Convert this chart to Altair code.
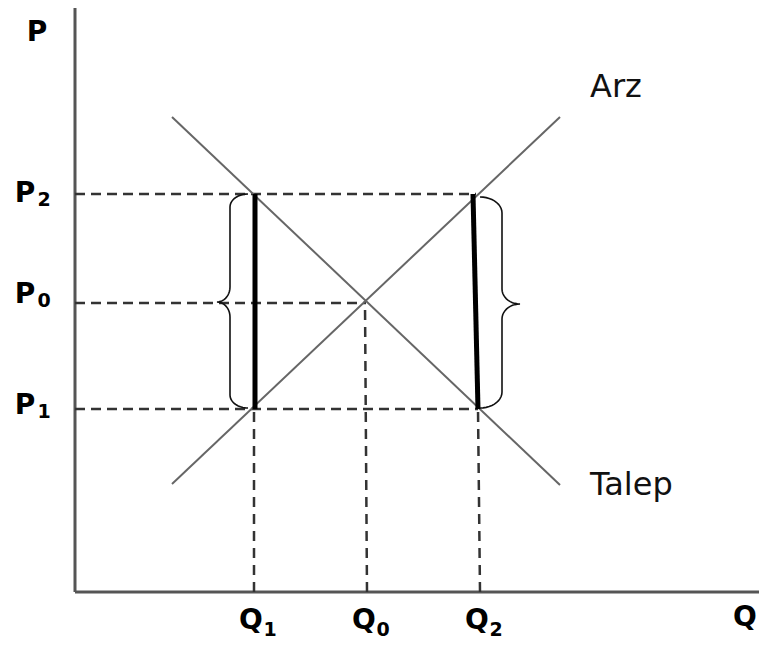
import altair as alt
import pandas as pd
import numpy as np

# ---- values (abstract units, origin at axis corner) ----
Q_NAMES = ["Q", "Q", "Q"]
Q_SUBS = ["1", "0", "2"]
Q_VALUES = [17.9, 29.2, 40.5]          # Q1, Q0, Q2

P_NAMES = ["P", "P", "P"]
P_SUBS = ["2", "0", "1"]
P_VALUES = [39.8, 28.9, 18.3]          # P2, P0, P1

SUPPLY_Q = [9.7, 48.5]
SUPPLY_P = [10.8, 47.5]
DEMAND_Q = [9.7, 48.5]
DEMAND_P = [47.5, 10.7]

EQ_Q, EQ_P = 29.1, 28.9                 # intersection
LEFT_BAR_Q = [18.0, 18.0]               # thick segment at Q1 (top, bottom)
RIGHT_BAR_Q = [39.8, 40.3]              # thick segment at Q2 (top, bottom)

X_MAX, Y_MAX = 68.4, 58.7

P2, P0, P1 = P_VALUES
Q1, Q0, Q2 = Q_VALUES

xs = alt.Scale(domain=[-6.7, 68.4], nice=False, zero=False)
ys = alt.Scale(domain=[-4.7, 58.4], nice=False, zero=False)
X = lambda f="x": alt.X(f"{f}:Q", scale=xs, axis=None)
Y = lambda f="y": alt.Y(f"{f}:Q", scale=ys, axis=None)

# axes
axes_df = pd.DataFrame({"x": [0, 0], "y": [0, 0], "x2": [0, X_MAX], "y2": [Y_MAX, 0]})
axes = alt.Chart(axes_df).mark_rule(color="#555", strokeWidth=3).encode(
    x=X(), y=Y(), x2="x2:Q", y2="y2:Q")

# dashed guide lines
h_df = pd.DataFrame({"x": [0, 0, 0], "x2": [RIGHT_BAR_Q[0] + 0.3, EQ_Q, RIGHT_BAR_Q[1]],
                     "y": [P2, P0, P1], "y2": [P2, P0, P1]})
v_df = pd.DataFrame({"x": [Q1, Q0, Q2], "x2": [Q1, Q0 - 0.2, Q2 - 0.2],
                     "y": [0, 0, 0], "y2": [P1, EQ_P, P1]})
hdash = alt.Chart(h_df).mark_rule(color="#333", strokeWidth=2.5, strokeDash=[10, 6]).encode(
    x=X(), x2="x2:Q", y=Y(), y2="y2:Q")
vdash = alt.Chart(v_df).mark_rule(color="#333", strokeWidth=2.5, strokeDash=[10, 7]).encode(
    x=X(), x2="x2:Q", y=Y(), y2="y2:Q")

# supply & demand
curves_df = pd.DataFrame({
    "x": SUPPLY_Q + DEMAND_Q,
    "y": SUPPLY_P + DEMAND_P,
    "curve": ["Arz", "Arz", "Talep", "Talep"],
})
curves = alt.Chart(curves_df).mark_line(color="#666", strokeWidth=2).encode(
    x=X(), y=Y(), detail="curve:N")

# thick segments
bars_df = pd.DataFrame({"x": [LEFT_BAR_Q[0], RIGHT_BAR_Q[0]], "x2": [LEFT_BAR_Q[1], RIGHT_BAR_Q[1]],
                        "y": [P2, P2], "y2": [P1, P1]})
bars = alt.Chart(bars_df).mark_rule(color="black", strokeWidth=5).encode(
    x=X(), x2="x2:Q", y=Y(), y2="y2:Q")


# braces (shape built from the P levels)
def brace(name, x_end, x_body, x_tip, y_top, y_mid, y_bot, ry_e, ry_m, n=12):
    t = np.linspace(0, np.pi / 2, n)
    px, py = [], []
    px += list(x_end - (x_end - x_body) * np.sin(t)); py += list(y_top - ry_e + ry_e * np.cos(t))
    px += list(x_tip + (x_body - x_tip) * np.cos(t)); py += list(y_mid + ry_m - ry_m * np.sin(t))
    px += list(x_tip + (x_body - x_tip) * np.sin(t)); py += list(y_mid - ry_m + ry_m * np.cos(t))
    px += list(x_end - (x_end - x_body) * np.cos(t)); py += list(y_bot + ry_e - ry_e * np.sin(t))
    return pd.DataFrame({"x": px, "y": py, "o": range(len(px)), "b": name})


braces_df = pd.concat([
    brace("L", 17.3, 15.5, 14.2, P2, P0 + 0.1, P1 + 0.1, 1.3, 1.5),
    brace("R", 40.5, 42.7, 44.5, P2 - 0.3, P0 - 0.1, P1 + 0.1, 1.6, 1.5),
])
braces = alt.Chart(braces_df).mark_line(color="#111", strokeWidth=1.6).encode(
    x=X(), y=Y(), order="o:Q", detail="b:N")

# labels
ql_df = pd.DataFrame({"x": Q_VALUES, "y": [-2.9] * 3, "t": Q_NAMES, "s": Q_SUBS})
pl_df = pd.DataFrame({"x": [-5.0] * 3, "y": [P2 + 0.05, P0 + 0.8, P1 + 0.3], "t": P_NAMES, "s": P_SUBS})
lab_font = "DejaVu Sans"
q_main = alt.Chart(ql_df).mark_text(font=lab_font, fontWeight="bold", fontSize=28, baseline="middle",
                                    align="center", dx=-3, color="black").encode(x=X(), y=Y(), text="t:N")
q_sub = alt.Chart(ql_df).mark_text(font=lab_font, fontWeight="bold", fontSize=19, baseline="middle",
                                   align="center", dx=16, dy=9, color="black").encode(x=X(), y=Y(), text="s:N")
p_main = alt.Chart(pl_df).mark_text(font=lab_font, fontWeight="bold", fontSize=28, baseline="middle",
                                    align="center", color="black").encode(x=X(), y=Y(), text="t:N")
p_sub = alt.Chart(pl_df).mark_text(font=lab_font, fontWeight="bold", fontSize=19, baseline="middle",
                                   align="center", dx=19, dy=6, color="black").encode(x=X(), y=Y(), text="s:N")

axis_lab_df = pd.DataFrame({"x": [-3.8, 67.0], "y": [55.9, -2.6], "t": ["P", "Q"]})
axis_labs = alt.Chart(axis_lab_df).mark_text(font=lab_font, fontWeight="bold", fontSize=28,
                                             baseline="middle", align="center", color="black").encode(
    x=X(), y=Y(), text="t:N")

name_df = pd.DataFrame({"x": [51.5, 51.5], "y": [49.5, 9.7], "t": ["Arz", "Talep"]})
names = alt.Chart(name_df).mark_text(font="DejaVu Sans", fontSize=32, baseline="alphabetic",
                                     align="left", color="#111").encode(x=X(), y=Y(), text="t:N")

chart = alt.layer(axes, hdash, vdash, curves, bars, braces, q_main, q_sub, p_main, p_sub,
                  axis_labs, names).properties(
    width=751, height=631, autosize=alt.AutoSizeParams(type="none"), padding=0
).configure_view(stroke=None)

chart.save("out.html", embed_options={"renderer": "svg", "actions": False})
